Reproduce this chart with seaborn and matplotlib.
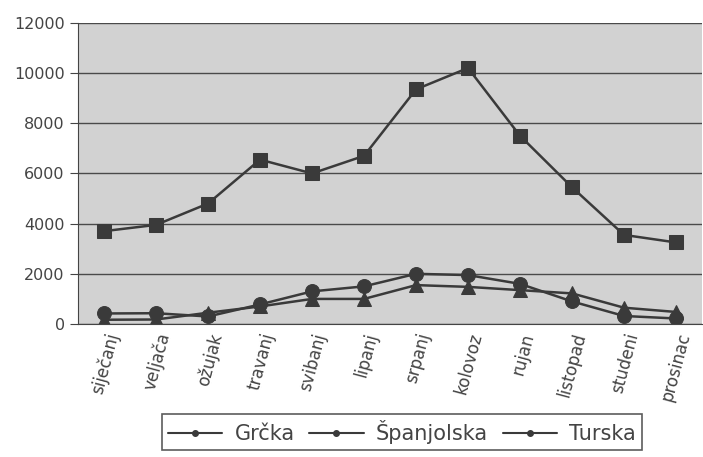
import numpy as np
import pandas as pd
import seaborn as sns
import matplotlib.pyplot as plt
from matplotlib.lines import Line2D

# Podaci (očitano s grafa)
months = ["siječanj", "veljača", "ožujak", "travanj", "svibanj", "lipanj",
          "srpanj", "kolovoz", "rujan", "listopad", "studeni", "prosinac"]
spanjolska = [3700, 3950, 4800, 6550, 6000, 6700, 9350, 10200, 7500, 5450, 3550, 3250]
grcka = [420, 430, 300, 780, 1300, 1500, 2000, 1950, 1600, 900, 320, 220]
turska = [170, 180, 450, 700, 1000, 1000, 1550, 1480, 1350, 1220, 650, 480]

series_names = ["Grčka", "Španjolska", "Turska"]

df = pd.DataFrame({"mjesec": months, "Grčka": grcka,
                   "Španjolska": spanjolska, "Turska": turska})
long = df.melt(id_vars="mjesec", var_name="zemlja", value_name="broj")

sns.set_style("white")
plt.rcParams['font.family'] = ['DejaVu Sans']

fig = plt.figure(figsize=(7.03, 4.57), dpi=100)
ax = fig.add_axes([0.111, 0.291, 0.8876, 0.659])
ax.set_facecolor("#d2d2d2")

line_col = "#3a3a3a"
sns.lineplot(data=long, x="mjesec", y="broj", hue="zemlja", style="zemlja",
             palette={n: line_col for n in series_names},
             markers={"Grčka": "o", "Španjolska": "s", "Turska": "^"},
             dashes=False, markersize=10, linewidth=1.8, sort=False,
             markeredgecolor=line_col, legend=False, ax=ax)

ax.set_ylim(0, 12000)
ax.set_xlim(-0.5, len(months) - 0.5)
ax.set_yticks(np.arange(0, 12001, 2000))
ax.yaxis.grid(True, color="#4a4a4a", linewidth=1.0)
ax.set_axisbelow(True)
ax.set_xlabel("")
ax.set_ylabel("")

# kvačice između kategorija
ax.set_xticks(np.arange(len(months)))
ax.set_xticklabels(months, rotation=75, ha="right", rotation_mode="anchor",
                   fontsize=12, color="#444444")
ax.tick_params(axis="x", length=0, pad=5)
ax.set_xticks(np.arange(-0.5, len(months), 1), minor=True)
ax.tick_params(axis="x", which="minor", length=7, color="#444444", width=1)
ax.tick_params(axis="y", length=6, color="#444444", labelsize=11.5,
               labelcolor="#444444", left=True)

for side in ["top", "right"]:
    ax.spines[side].set_visible(False)
ax.spines["left"].set_color("#444444")
ax.spines["bottom"].set_color("#444444")

handles = [Line2D([0], [0], color=line_col, marker="o", markersize=4,
                  linewidth=1.5) for _ in series_names]
leg = fig.legend(handles, series_names, ncol=3, loc="center",
                 bbox_to_anchor=(0.572, 0.055), frameon=True, fancybox=False,
                 fontsize=15, handlelength=2.6, columnspacing=0.7,
                 handletextpad=0.6, borderpad=0.3, labelcolor="#444444")
leg.get_frame().set_edgecolor("#333333")
leg.get_frame().set_linewidth(1.2)

fig.savefig("out.png", dpi=100)
